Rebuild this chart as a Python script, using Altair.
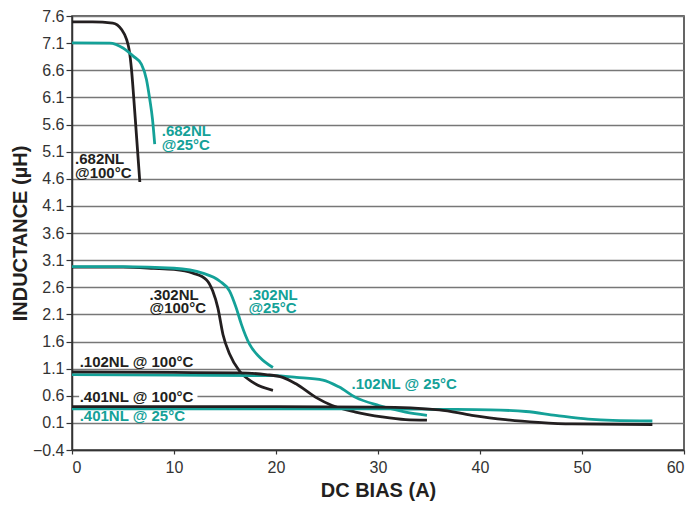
import altair as alt
import pandas as pd

# ---- data ----
x_682_100 = [0, 2, 4.0, 4.86, 5.35, 5.6, 5.83, 5.99, 6.32, 6.65]
y_682_100 = [7.49, 7.49, 7.47, 7.35, 7.17, 6.98, 6.62, 6.25, 5.40, 4.54]

x_682_25 = [0, 3.7, 5.0, 6.0, 6.81, 7.3, 7.62, 7.89, 8.11]
y_682_25 = [7.105, 7.10, 7.01, 6.86, 6.71, 6.43, 6.07, 5.70, 5.24]

x_302_100 = [0, 5, 8, 10, 11.86, 13.17, 13.8, 14.3, 14.8, 15.45, 16.4, 17.7, 19.7]
y_302_100 = [2.97, 2.97, 2.95, 2.93, 2.86, 2.74, 2.53, 2.22, 1.73, 1.37, 1.06, 0.85, 0.70]

x_302_25 = [0, 5, 10, 12.8, 14.5, 15.45, 16.1, 16.6, 17.4, 18.4, 19.7]
y_302_25 = [2.98, 2.98, 2.95, 2.86, 2.71, 2.53, 2.22, 1.92, 1.55, 1.31, 1.12]

x_102_100 = [0, 10, 16.4, 19.0, 20.65, 21.96, 23.9, 25.5, 27.8, 30.4, 32.7, 34.8]
y_102_100 = [1.04, 1.03, 1.02, 0.99, 0.94, 0.82, 0.57, 0.42, 0.30, 0.21, 0.16, 0.15]

x_102_25 = [0, 10, 19.7, 22.0, 24.6, 26.2, 27.8, 30.1, 32.7, 34.8]
y_102_25 = [0.99, 0.98, 0.97, 0.94, 0.89, 0.76, 0.57, 0.42, 0.30, 0.24]

x_401_100 = [0, 10, 20, 30, 36, 39.2, 42.5, 45.7, 49, 56.9]
y_401_100 = [0.40, 0.40, 0.40, 0.39, 0.34, 0.24, 0.16, 0.11, 0.08, 0.07]

x_401_25 = [0, 20, 31, 36, 41, 44.5, 47.4, 50.6, 53, 56.9]
y_401_25 = [0.36, 0.36, 0.36, 0.35, 0.34, 0.31, 0.24, 0.17, 0.145, 0.135]

label_text = [".682NL", "@100°C", ".682NL", "@25°C", ".302NL", "@100°C",
              ".302NL", "@25°C", ".102NL @ 100°C", ".102NL @ 25°C",
              ".401NL @ 100°C", ".401NL @ 25°C"]
label_x = [0.3, 0.3, 8.8, 8.8, 7.6, 7.6, 17.3, 17.3, 0.75, 27.4, 0.75, 0.75]
label_y = [4.96, 4.70, 5.48, 5.22, 2.46, 2.21, 2.46, 2.21, 1.22, 0.81, 0.58, 0.22]
label_tone = ["black", "black", "teal", "teal", "black", "black",
              "teal", "teal", "black", "teal", "black", "teal"]

y_ticks = [-0.4, 0.1, 0.6, 1.1, 1.6, 2.1, 2.6, 3.1, 3.6, 4.1, 4.6, 5.1,
           5.6, 6.1, 6.6, 7.1, 7.6]
x_ticks = [0, 10, 20, 30, 40, 50, 60]

series = [
    ("682_100", x_682_100, y_682_100, "black"),
    ("682_25", x_682_25, y_682_25, "teal"),
    ("302_100", x_302_100, y_302_100, "black"),
    ("302_25", x_302_25, y_302_25, "teal"),
    ("102_25", x_102_25, y_102_25, "teal"),
    ("102_100", x_102_100, y_102_100, "black"),
    ("401_25", x_401_25, y_401_25, "teal"),
    ("401_100", x_401_100, y_401_100, "black"),
]

rows = []
for name, xs_, ys_, tone in series:
    for i, (a, b) in enumerate(zip(xs_, ys_)):
        rows.append({"series": name, "x": a, "y": b, "order": i, "tone": tone})
df = pd.DataFrame(rows)

labels = pd.DataFrame({"text": label_text, "x": label_x, "y": label_y, "tone": label_tone})

# white patch behind the ".401NL @ 100°C" label (interrupts the gridline)
patch = pd.DataFrame({"x": [0.7], "x2": [12.3], "y": [0.52], "y2": [0.66]})

color_scale = alt.Scale(domain=["black", "teal"], range=["#231f20", "#14a198"])
FONT = "Liberation Sans"

xs = alt.Scale(domain=[0, 60], nice=False, zero=False)
ys = alt.Scale(domain=[-0.4, 7.6], nice=False, zero=False)

x_axis = alt.Axis(values=x_ticks, title="DC BIAS (A)", grid=False, tickSize=4,
                  labelFontSize=16, labelPadding=5, titlePadding=5,
                  titleFontSize=20, titleFontWeight="bold", labelOverlap=False)
y_axis = alt.Axis(values=y_ticks, format=".1f", title="INDUCTANCE (µH)", grid=True,
                  tickSize=6, labelFontSize=16, labelPadding=2, titlePadding=2,
                  titleFontSize=20, titleFontWeight="bold", labelOverlap=False,
                  labelSeparation=0)

X = alt.X("x:Q", scale=xs, axis=x_axis)
Y = alt.Y("y:Q", scale=ys, axis=y_axis)

lines = alt.Chart(df).mark_line(interpolate="monotone", strokeWidth=2.8).encode(
    x=X, y=Y,
    color=alt.Color("tone:N", scale=color_scale, legend=None),
    detail="series:N",
    order="order:Q",
)

rect = alt.Chart(patch).mark_rect(color="white").encode(
    x=X, x2="x2:Q", y=Y, y2="y2:Q",
)

texts = alt.Chart(labels).mark_text(
    align="left", baseline="middle", fontSize=15, fontWeight="bold", font=FONT
).encode(
    x=X, y=Y,
    text="text:N",
    color=alt.Color("tone:N", scale=color_scale, legend=None),
)

chart = alt.layer(lines, rect, texts).properties(
    width=612, height=434,
    autosize=alt.AutoSizeParams(type="none"),
    padding={"left": 64, "top": 8, "right": 3, "bottom": 52},
).configure_view(
    stroke="#333333", strokeWidth=1.5
).configure_axis(
    labelFont=FONT, titleFont=FONT, labelColor="#333333", titleColor="#231f20",
    domainColor="#333333", domainWidth=1.5, tickColor="#333333", tickWidth=1.2,
    gridColor="#777777", gridWidth=1.3, labelOverlap=False,
)

chart.save("out.html", embed_options={"renderer": "svg", "actions": False})
